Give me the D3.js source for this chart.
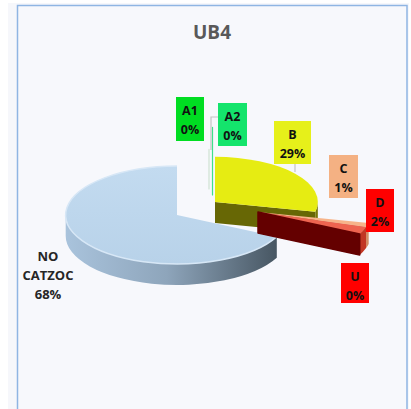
<!DOCTYPE html>
<html>
<head>
<meta charset="utf-8">
<script src="https://cdn.jsdelivr.net/npm/d3@7"></script>
<style>
  body { margin: 0; background: #ffffff; }
  text { font-family: "Open Sans", "DejaVu Sans", sans-serif; font-weight: bold; }
</style>
</head>
<body>
<div id="chart"></div>
<script>
// Chart data
var title = "UB4";
var categories = ["A1", "A2", "B", "C", "D", "U", "NO CATZOC"];
var values = [0, 0, 28.5, 1.4, 2.4, 0, 67.7];

// Colours of each slice (top face, side faces) and of the label boxes
var topColors = ["#00e030", "#17e36f", "#e6ec12", "#f7b48a", "#ee6450", "#ff0000", "#bcd6ec"];
var sideColors = ["#cfe3d3", "#3fe08a", "#676705", "#b87a55", "#a8301f", "#640000", "#8ea5bb"];
var labelFills = ["#00dd22", "#14e46c", "#e6f01a", "#f4b183", "#ff0000", "#ff0000", "none"];

// Define SVG area dimensions
var svgWidth = 411;
var svgHeight = 409;

// Pie geometry: base centre, radius, tilt and thickness
var base = { x: 200, y: 214 };
var radius = 106;
var tilt = 0.44;
var depth = 21;

// Exploded slices: offset from the base centre and a perspective factor
var explode = {
  "A1": { dx: 9, dy: -46, k: 0.4 },
  "A2": { dx: 12.5, dy: -40, k: 1.0 },
  "B": { dx: 15, dy: -12, k: 0.97 },
  "C": { dx: 58, dy: -2, k: 1.07 },
  "D": { dx: 58, dy: -2, k: 1.07 },
  "U": { dx: 58, dy: -2, k: 1.07 },
  "NO CATZOC": { dx: -23, dy: 1, k: 1.05 },
};

// Hand placed label boxes, as in the original chart
var labelBoxes = {
  "A1": { x: 176, y: 97, w: 28, h: 44 },
  "A2": { x: 218, y: 103, w: 29, h: 43 },
  "B": { x: 274, y: 121, w: 37, h: 43 },
  "C": { x: 329, y: 155, w: 29, h: 43 },
  "D": { x: 366, y: 189, w: 28, h: 43 },
  "U": { x: 341, y: 263, w: 28, h: 40 },
  "NO CATZOC": { x: 20, y: 244, w: 56, h: 60 },
};

var svg = d3
  .select("#chart")
  .append("svg")
  .attr("width", svgWidth)
  .attr("height", svgHeight);

// Background and plot frame
svg.append("rect")
  .attr("x", 8).attr("y", 3)
  .attr("width", 401).attr("height", 410)
  .attr("fill", "#f6f7fb");

svg.append("rect")
  .attr("x", 17.5).attr("y", 5.5)
  .attr("width", 389.5).attr("height", 420)
  .attr("fill", "#f7f8fc")
  .attr("stroke", "#8fb5e3")
  .attr("stroke-width", 1.5);

// Title
svg.append("text")
  .attr("x", 212)
  .attr("y", 39)
  .attr("text-anchor", "middle")
  .attr("font-size", 19)
  .attr("fill", "#595959")
  .text(title);

// Gradients for the curved walls
var defs = svg.append("defs");
var blueWall = defs.append("linearGradient")
  .attr("id", "blueWall")
  .attr("gradientUnits", "userSpaceOnUse")
  .attr("x1", 66).attr("x2", 290).attr("y1", 0).attr("y2", 0);
blueWall.append("stop").attr("offset", 0).attr("stop-color", "#a9c3dc");
blueWall.append("stop").attr("offset", 0.45).attr("stop-color", "#8ea5bb");
blueWall.append("stop").attr("offset", 1).attr("stop-color", "#3f4d58");

var blueTop = defs.append("linearGradient")
  .attr("id", "blueTop")
  .attr("x1", 0).attr("x2", 0).attr("y1", 0).attr("y2", 1);
blueTop.append("stop").attr("offset", 0).attr("stop-color", "#c3dbf0");
blueTop.append("stop").attr("offset", 1).attr("stop-color", "#b8d2e9");

// Build the slices
var data = categories.map((c, i) => ({ name: c, value: values[i], index: i }));
var pie = d3.pie().sort(null).value((d) => d.value);
var arcs = pie(data);

// slice centre and radii
function centreOf(name) {
  var e = explode[name];
  return {
    x: base.x + e.dx,
    y: base.y + e.dy,
    rx: radius * e.k,
    ry: radius * tilt * e.k,
  };
}

// point on the rim, z pushes down for the bottom edge
function P(c, a, z) {
  return [c.x + c.rx * Math.sin(a), c.y - c.ry * Math.cos(a) + z];
}

function topPath(c, a0, a1) {
  var p0 = P(c, a0, 0);
  var p1 = P(c, a1, 0);
  var large = a1 - a0 > Math.PI ? 1 : 0;
  return `M${c.x},${c.y}L${p0}A${c.rx},${c.ry} 0 ${large} 1 ${p1}Z`;
}

function wallPath(c, a0, a1) {
  var s = Math.max(a0, Math.PI / 2);
  var e = Math.min(a1, (3 * Math.PI) / 2);
  if (e <= s) return null;
  var t0 = P(c, s, 0), t1 = P(c, e, 0), b1 = P(c, e, depth), b0 = P(c, s, depth);
  return `M${t0}A${c.rx},${c.ry} 0 0 1 ${t1}L${b1}A${c.rx},${c.ry} 0 0 0 ${b0}Z`;
}

function facePath(c, a) {
  var r = P(c, a, 0);
  var rb = P(c, a, depth);
  return `M${c.x},${c.y}L${r}L${rb}L${c.x},${c.y + depth}Z`;
}

var pieGroup = svg.append("g").classed("pie", true);

// back slices first, the exploded small ones last
var drawOrder = [0, 1, 2, 6, 3, 4, 5];

drawOrder.forEach((i) => {
  var d = arcs[i];
  var name = d.data.name;
  var c = centreOf(name);
  var a0 = d.startAngle, a1 = d.endAngle;
  var g = pieGroup.append("g").attr("class", "slice");

  // zero slices only show their edge
  if (a1 - a0 === 0) {
    g.append("path")
      .attr("d", facePath(c, a1))
      .attr("fill", sideColors[i])
      .attr("stroke", sideColors[i])
      .attr("stroke-width", name === "U" ? 1.5 : 1.2)
      .attr("stroke-linejoin", "round");
    return;
  }

  // radial side faces that look toward the viewer
  if (Math.sin(a1) > 0.01) {
    g.append("path").attr("d", facePath(c, a1)).attr("fill", sideColors[i]);
  }
  if (Math.sin(a0) < -0.01) {
    g.append("path").attr("d", facePath(c, a0)).attr("fill", sideColors[i]);
  }

  // curved wall
  var w = wallPath(c, a0, a1);
  if (w) {
    g.append("path")
      .attr("d", w)
      .attr("fill", name === "NO CATZOC" ? "url(#blueWall)" : d3.color(sideColors[i]).brighter(0.4));
  }

  // top face
  g.append("path")
    .attr("d", topPath(c, a0, a1))
    .attr("fill", name === "NO CATZOC" ? "url(#blueTop)" : topColors[i]);

  // soft bevel on the rim of the big slice
  if (name === "NO CATZOC") {
    var p0 = P(c, a0, 0), p1 = P(c, a1, 0);
    g.append("path")
      .attr("d", `M${p0}A${c.rx},${c.ry} 0 1 1 ${p1}`)
      .attr("fill", "none")
      .attr("stroke", "#d7e7f6")
      .attr("stroke-width", 1.5);
  }
});

// Leader lines
var leaders = [
  [[218, 117], [211, 117], [211, 150]],
  [[295, 164], [295, 172]],
];
svg.selectAll(".leader")
  .data(leaders)
  .enter()
  .append("path")
  .attr("class", "leader")
  .attr("d", d3.line())
  .attr("fill", "none")
  .attr("stroke", "#c4c4c4")
  .attr("stroke-width", 1.2);

// Data labels
var labels = svg.selectAll(".label")
  .data(arcs)
  .enter()
  .append("g")
  .attr("class", "label");

labels.append("rect")
  .attr("x", (d) => labelBoxes[d.data.name].x)
  .attr("y", (d) => labelBoxes[d.data.name].y)
  .attr("width", (d) => labelBoxes[d.data.name].w)
  .attr("height", (d) => labelBoxes[d.data.name].h)
  .attr("fill", (d) => labelFills[d.data.index]);

labels.each(function (d) {
  var box = labelBoxes[d.data.name];
  var lines = d.data.name.split(" ");
  lines.push(Math.round(d.data.value) + "%");
  var big = lines.length > 2;
  var step = big ? 19 : 19.5;
  var first = big ? box.y + 17 : box.y + 17.5;
  d3.select(this)
    .selectAll("text")
    .data(lines)
    .enter()
    .append("text")
    .attr("x", box.x + box.w / 2)
    .attr("y", (t, j) => first + j * step)
    .attr("text-anchor", "middle")
    .attr("font-size", big ? 13 : 12.5)
    .attr("fill", big ? "#262626" : "#111111")
    .text((t) => t);
});
</script>
</body>
</html>
